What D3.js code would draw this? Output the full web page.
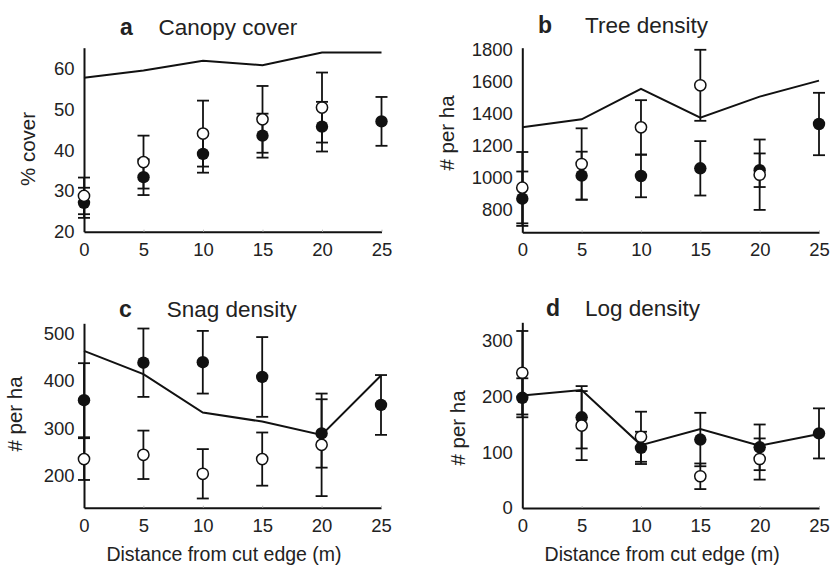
<!DOCTYPE html>
<html>
<head>
<meta charset="utf-8">
<script src="https://cdn.jsdelivr.net/npm/d3@7"></script>
<style>
    body { margin: 0; background: #fff; }
    svg text { font-family: "Liberation Sans", Arial, Helvetica, sans-serif; fill: #222; }
</style>
</head>
<body>
<div id="chart"></div>
<script>
// distance from cut edge (m)
var distance = [0, 5, 10, 15, 20, 25];

// a - canopy cover
var canopyLine = [57.8, 59.6, 62.0, 60.9, 64.0, 64.0];
var canopyFilled = [27.1, 33.4, 39.1, 43.6, 45.8, 47.1];
var canopyFilledErr = [3.7, 4.4, 4.6, 5.4, 6.1, 6.0];
var canopyOpen = [28.8, 37.1, 44.1, 47.6, 50.5, null];
var canopyOpenErr = [4.5, 6.5, 8.1, 8.2, 8.6, null];
var canopyTicks = [20, 30, 40, 50, 60];

// b - tree density
var treeLine = [1312, 1362, 1552, 1372, 1504, 1604];
var treeFilled = [866, 1010, 1008, 1056, 1044, 1333];
var treeFilledErr = [170, 150, 133, 170, 105, 195];
var treeOpen = [935, 1083, 1312, 1575, 1016, null];
var treeOpenErr = [223, 223, 170, 222, 220, null];
var treeTicks = [800, 1000, 1200, 1400, 1600, 1800];

// c - snag density
var snagLine = [463, 414, 333, 314, 286, 411];
var snagFilled = [359, 438, 439, 408, 289, 349];
var snagFilledErr = [78, 72, 66, 84, 72, 63];
var snagOpen = [235, 244, 204, 235, 265, null];
var snagOpenErr = [44, 51, 52, 56, 108, null];
var snagTicks = [200, 300, 400, 500];

// d - log density
var logLine = [202, 212, 113, 142, 112, 133];
var logFilled = [198, 163, 108, 123, 109, 134];
var logFilledErr = [35, 56, 29, 48, 41, 45];
var logOpen = [243, 148, 128, 57, 88, null];
var logOpenErr = [75, 62, 45, 23, 37, null];
var logTicks = [0, 100, 200, 300];

var panels = [
    {letter: "a", title: "Canopy cover", ylabel: "% cover", line: canopyLine,
     filled: canopyFilled, filledErr: canopyFilledErr, open: canopyOpen, openErr: canopyOpenErr,
     ticks: canopyTicks, domain: [20, 65.2],
     x0: 84, x1: 381.5, y0: 231.7, y1: 47.7, titleY: 35, letterX: 120, titleX: 158.5,
     labelX: 28, labelY: 149, xlabel: false},
    {letter: "b", title: "Tree density", ylabel: "# per ha", line: treeLine,
     filled: treeFilled, filledErr: treeFilledErr, open: treeOpen, openErr: treeOpenErr,
     ticks: treeTicks, domain: [656, 1810],
     x0: 522.3, x1: 819, y0: 232.3, y1: 47.7, titleY: 33, letterX: 538, titleX: 585,
     labelX: 447, labelY: 133, xlabel: false},
    {letter: "c", title: "Snag density", ylabel: "# per ha", line: snagLine,
     filled: snagFilled, filledErr: snagFilledErr, open: snagOpen, openErr: snagOpenErr,
     ticks: snagTicks, domain: [132.6, 521],
     x0: 84, x1: 381, y0: 507.7, y1: 323.3, titleY: 317, letterX: 119, titleX: 166.7,
     labelX: 15, labelY: 414, xlabel: true},
    {letter: "d", title: "Log density", ylabel: "# per ha", line: logLine,
     filled: logFilled, filledErr: logFilledErr, open: logOpen, openErr: logOpenErr,
     ticks: logTicks, domain: [0, 333.6],
     x0: 522.3, x1: 819, y0: 508, y1: 322.3, titleY: 316, letterX: 546, titleX: 585,
     labelX: 458, labelY: 428, xlabel: true}
];

var svg = d3.select("#chart").append("svg")
    .attr("width", 830)
    .attr("height", 567);

panels.forEach(function(p) {
    var x = d3.scaleLinear().domain([0, 25]).range([p.x0, p.x1]);
    var y = d3.scaleLinear().domain(p.domain).range([p.y0, p.y1]);
    var g = svg.append("g").attr("class", "panel");

    // axes
    var xAxis = g.append("g")
        .attr("transform", "translate(0," + p.y0 + ")")
        .call(d3.axisBottom(x).tickValues(distance).tickFormat(d3.format("d"))
            .tickSizeInner(-2).tickSizeOuter(0).tickPadding(11));
    xAxis.select(".domain").attr("stroke", "#111").attr("stroke-width", 2);
    xAxis.selectAll(".tick line").attr("stroke", "#bbb");
    xAxis.selectAll(".tick text").attr("font-size", 18.5).attr("fill", "#222");

    var yAxis = g.append("g")
        .attr("transform", "translate(" + p.x0 + ",0)")
        .call(d3.axisLeft(y).tickValues(p.ticks).tickFormat(d3.format("d"))
            .tickSize(0).tickPadding(9.5));
    yAxis.select(".domain").attr("stroke", "#111").attr("stroke-width", 2);
    yAxis.selectAll(".tick text").attr("font-size", 18.5).attr("fill", "#222");

    // titles
    g.append("text")
        .attr("x", p.letterX).attr("y", p.titleY)
        .attr("font-size", 23).attr("font-weight", "bold")
        .text(p.letter);
    g.append("text")
        .attr("x", p.titleX).attr("y", p.titleY)
        .attr("font-size", 22.5)
        .text(p.title);

    g.append("text")
        .attr("transform", "translate(" + p.labelX + "," + p.labelY + ") rotate(-90)")
        .attr("text-anchor", "middle")
        .attr("dy", "0.35em")
        .attr("font-size", 20.5)
        .text(p.ylabel);

    if (p.xlabel) {
        g.append("text")
            .attr("x", (p.x0 + p.x1) / 2 - 8.5)
            .attr("y", p.y0 + 53)
            .attr("text-anchor", "middle")
            .attr("font-size", 19.5)
            .text("Distance from cut edge (m)");
    }

    // reference line
    var line = d3.line()
        .x(function(d, i) { return x(distance[i]); })
        .y(function(d) { return y(d); });
    g.append("path")
        .datum(p.line)
        .attr("d", line)
        .attr("fill", "none")
        .attr("stroke", "#111")
        .attr("stroke-width", 2);

    // error bars
    function errorBars(vals, errs) {
        var rows = vals.map(function(v, i) { return {x: distance[i], v: v, e: errs[i]}; })
            .filter(function(d) { return d.v != null; });
        var eb = g.append("g").attr("class", "errorbars")
            .attr("stroke", "#111").attr("stroke-width", 1.8);
        eb.selectAll(".stem").data(rows).enter().append("line")
            .attr("x1", function(d) { return x(d.x); })
            .attr("x2", function(d) { return x(d.x); })
            .attr("y1", function(d) { return y(d.v - d.e); })
            .attr("y2", function(d) { return y(d.v + d.e); });
        [-1, 1].forEach(function(s) {
            eb.selectAll(".cap" + s).data(rows).enter().append("line")
                .attr("x1", function(d) { return x(d.x) - 6; })
                .attr("x2", function(d) { return x(d.x) + 6; })
                .attr("y1", function(d) { return y(d.v + s * d.e); })
                .attr("y2", function(d) { return y(d.v + s * d.e); });
        });
        return rows;
    }

    var filledRows = errorBars(p.filled, p.filledErr);
    var openRows = errorBars(p.open, p.openErr);

    g.selectAll(".filled").data(filledRows).enter().append("circle")
        .attr("cx", function(d) { return x(d.x); })
        .attr("cy", function(d) { return y(d.v); })
        .attr("r", 6.2)
        .attr("fill", "#111");

    g.selectAll(".open").data(openRows).enter().append("circle")
        .attr("cx", function(d) { return x(d.x); })
        .attr("cy", function(d) { return y(d.v); })
        .attr("r", 5.6)
        .attr("fill", "#fff")
        .attr("stroke", "#111")
        .attr("stroke-width", 1.5);
});
</script>
</body>
</html>
